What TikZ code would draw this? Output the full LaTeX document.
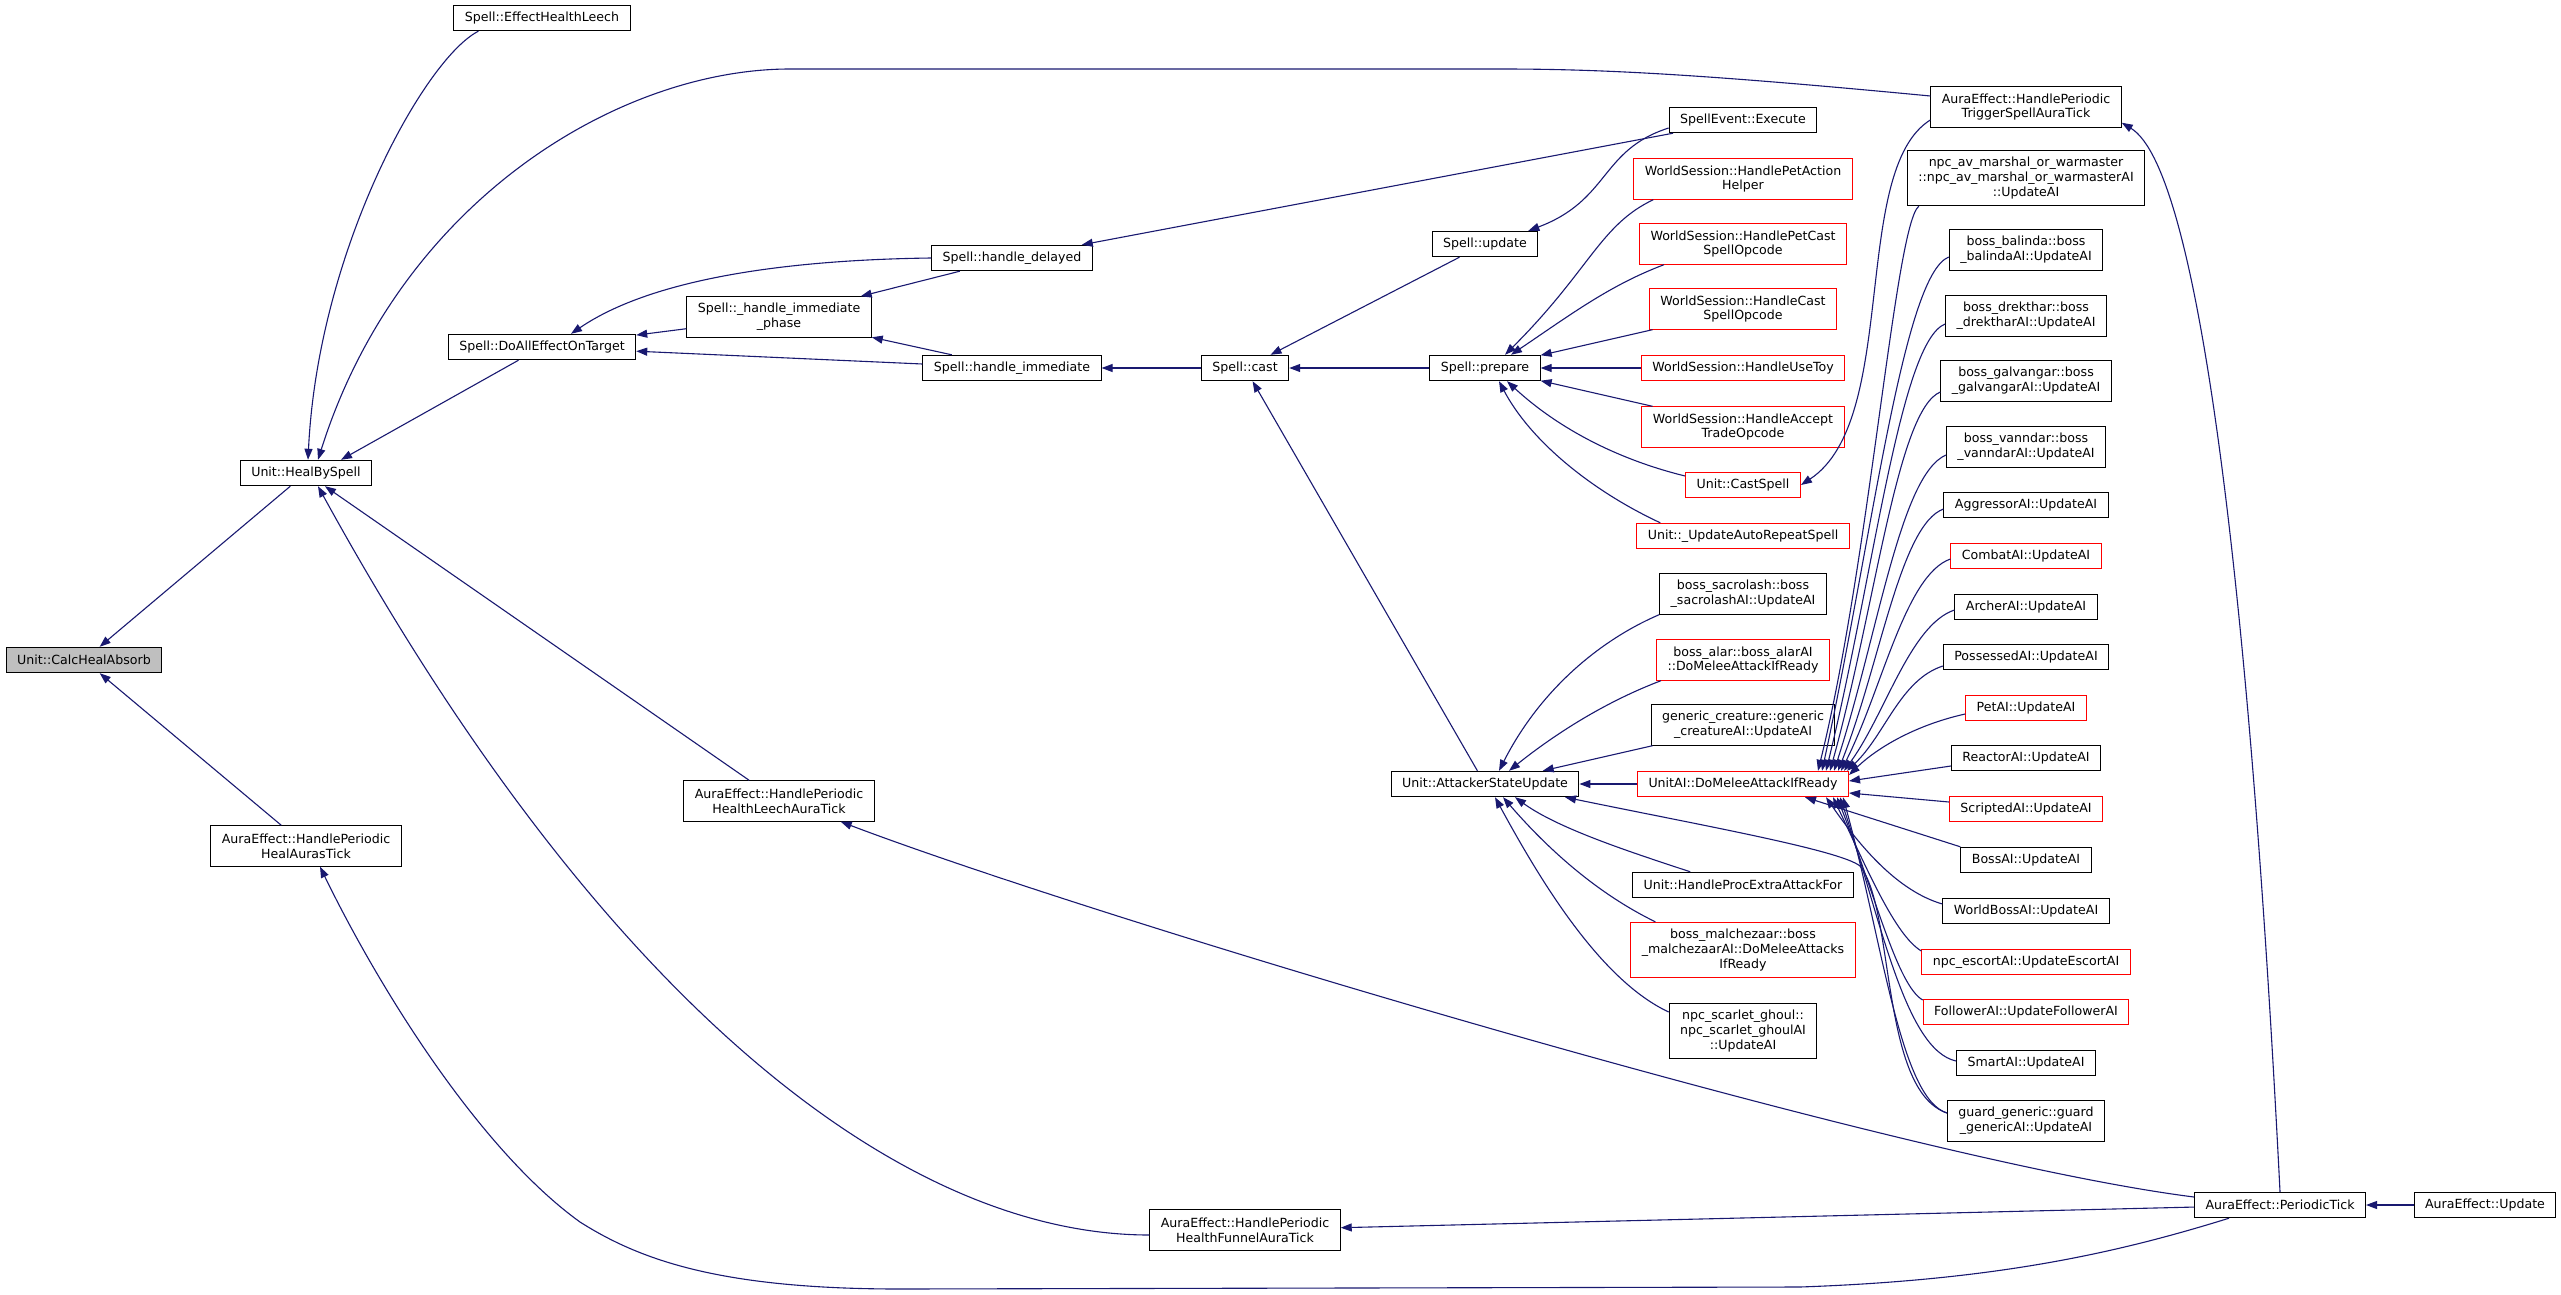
\documentclass[tikz,border=0pt]{standalone}
\usepackage{fontspec}
\setmainfont{DejaVu Sans}
\usepackage{tikz}
\usetikzlibrary{positioning, arrows.meta, calc}
\definecolor{callblue}{HTML}{191970}
\definecolor{rootgrey}{HTML}{BFBFBF}
\newcommand{\FnFont}{\fontsize{12.6}{14.7}\selectfont}
\tikzset{
    fn/.style={draw=black, fill=white, line width=1pt, font=\FnFont, align=center,
        inner xsep=11pt, inner ysep=5pt, minimum height=25.4pt},
    fntwo/.style={fn, minimum height=40.4pt},
    fnthree/.style={fn, minimum height=55.4pt},
    trunc/.style={draw=red},
    root/.style={fill=rootgrey},
    call/.style={-{Triangle[length=11pt,width=8pt]}, draw=callblue, line width=1.1pt},
}

\begin{document}
\begin{tikzpicture}[x=1pt, y=-1pt]
    \useasboundingbox (0,0) rectangle (2561,1295);

    % callee and the first callers
    \node[fn, root] (absorb) at (84,660) {Unit::CalcHealAbsorb};
    \node[fn] (heal) at (306,473) {Unit::HealBySpell};
    \node[fntwo] (healtick) at (306,846) {AuraEffect::HandlePeriodic\\HealAurasTick};
    \node[fn] (leech) at (542,18) {Spell::EffectHealthLeech};
    \node[fn] (doall) at (542,347) {Spell::DoAllEffectOnTarget};
    \node[fntwo] (phase) at (779,317) {Spell::\_handle\_immediate\\\_phase};
    \node[fntwo] (leechtick) at (779,801) {AuraEffect::HandlePeriodic\\HealthLeechAuraTick};
    \node[fn] (delayed) at (1012,258) {Spell::handle\_delayed};
    \node[fn] (immediate) at (1012,368) {Spell::handle\_immediate};
    \node[fn] (cast) at (1245,368) {Spell::cast};
    \node[fntwo] (funnel) at (1245,1230) {AuraEffect::HandlePeriodic\\HealthFunnelAuraTick};
    \node[fn] (update) at (1485,244) {Spell::update};
    \node[fn] (prepare) at (1485,368) {Spell::prepare};
    \node[fn] (attacker) at (1485,784) {Unit::AttackerStateUpdate};

    % callers of prepare and attacker
    \node[fn] (execute) at (1743,120) {SpellEvent::Execute};
    \node[fntwo, trunc] (petaction) at (1743,179) {WorldSession::HandlePetAction\\Helper};
    \node[fntwo, trunc] (petcast) at (1743,244) {WorldSession::HandlePetCast\\SpellOpcode};
    \node[fntwo, trunc] (castop) at (1743,309) {WorldSession::HandleCast\\SpellOpcode};
    \node[fn, trunc] (usetoy) at (1743,368) {WorldSession::HandleUseToy};
    \node[fntwo, trunc] (trade) at (1743,427) {WorldSession::HandleAccept\\TradeOpcode};
    \node[fn, trunc] (castspell) at (1743,485) {Unit::CastSpell};
    \node[fn, trunc] (autorepeat) at (1743,536) {Unit::\_UpdateAutoRepeatSpell};
    \node[fntwo] (sacrolash) at (1743,594) {boss\_sacrolash::boss\\\_sacrolashAI::UpdateAI};
    \node[fntwo, trunc] (alar) at (1743,660) {boss\_alar::boss\_alarAI\\::DoMeleeAttackIfReady};
    \node[fntwo] (generic) at (1743,725) {generic\_creature::generic\\\_creatureAI::UpdateAI};
    \node[fn, trunc] (melee) at (1743,784) {UnitAI::DoMeleeAttackIfReady};
    \node[fn] (extra) at (1743,885) {Unit::HandleProcExtraAttackFor};
    \node[fnthree, trunc] (malchezaar) at (1743,950) {boss\_malchezaar::boss\\\_malchezaarAI::DoMeleeAttacks\\IfReady};
    \node[fnthree] (ghoul) at (1743,1031) {npc\_scarlet\_ghoul::\\npc\_scarlet\_ghoulAI\\::UpdateAI};

    % callers of the melee attack
    \node[fntwo] (trigger) at (2026,107) {AuraEffect::HandlePeriodic\\TriggerSpellAuraTick};
    \node[fnthree] (marshal) at (2026,178) {npc\_av\_marshal\_or\_warmaster\\::npc\_av\_marshal\_or\_warmasterAI\\::UpdateAI};
    \node[fntwo] (balinda) at (2026,250) {boss\_balinda::boss\\\_balindaAI::UpdateAI};
    \node[fntwo] (drekthar) at (2026,316) {boss\_drekthar::boss\\\_drektharAI::UpdateAI};
    \node[fntwo] (galvangar) at (2026,381) {boss\_galvangar::boss\\\_galvangarAI::UpdateAI};
    \node[fntwo] (vanndar) at (2026,447) {boss\_vanndar::boss\\\_vanndarAI::UpdateAI};
    \node[fn] (aggressor) at (2026,505) {AggressorAI::UpdateAI};
    \node[fn, trunc] (combat) at (2026,556) {CombatAI::UpdateAI};
    \node[fn] (archer) at (2026,607) {ArcherAI::UpdateAI};
    \node[fn] (possessed) at (2026,657) {PossessedAI::UpdateAI};
    \node[fn, trunc] (petai) at (2026,708) {PetAI::UpdateAI};
    \node[fn] (reactor) at (2026,758) {ReactorAI::UpdateAI};
    \node[fn, trunc] (scripted) at (2026,809) {ScriptedAI::UpdateAI};
    \node[fn] (bossai) at (2026,860) {BossAI::UpdateAI};
    \node[fn] (worldboss) at (2026,911) {WorldBossAI::UpdateAI};
    \node[fn, trunc] (escort) at (2026,962) {npc\_escortAI::UpdateEscortAI};
    \node[fn, trunc] (follower) at (2026,1012) {FollowerAI::UpdateFollowerAI};
    \node[fn] (smart) at (2026,1063) {SmartAI::UpdateAI};
    \node[fntwo] (guard) at (2026,1121) {guard\_generic::guard\\\_genericAI::UpdateAI};

    \node[fn] (tick) at (2280,1205) {AuraEffect::PeriodicTick};
    \node[fn] (auraupdate) at (2485,1205) {AuraEffect::Update};

    % calls into the heal functions
    \draw (heal) edge[call] (absorb);
    \draw (healtick) edge[call] (absorb);
    \draw[call] ([xshift=25pt]leech.south west) .. controls (425,58) and (318,250) .. ([xshift=2pt]heal.north);
    \draw[call] ([yshift=11pt]trigger.west) .. controls (1700,74) and (1600,69) .. (1500,69) -- (790,69)
        .. controls (620,69) and (400,200) .. ([xshift=12pt]heal.north);
    \draw (doall) edge[call] ([xshift=35pt]heal.north);
    \draw (leechtick) edge[call] (heal);
    \draw[call] ([yshift=-5pt]funnel.west) .. controls (900,1235) and (600,1000) .. ([xshift=12pt]heal.south);

    % periodic tick
    \draw[call] ([xshift=-51pt]tick.south) .. controls (2120,1252) and (2000,1280) .. (1800,1287) -- (900,1289)
        .. controls (720,1289) and (640,1260) .. (580,1222)
        .. controls (480,1150) and (380,990) .. ([xshift=14pt]healtick.south);
    \draw[call] ([yshift=8pt]tick.west) .. controls (1900,1160) and (1100,920) .. ([xshift=-34pt]leechtick.south east);
    \draw (tick) edge[call] (funnel);
    \draw (auraupdate) edge[call] (tick);
    \draw[call] (tick.north) .. controls (2250,600) and (2200,170) .. ([yshift=5pt]trigger.south east);

    % spell handling
    \draw (phase) edge[call] (doall);
    \draw (immediate) edge[call] (doall);
    \draw[call] (delayed.west) .. controls (780,260) and (650,280) .. ([xshift=29pt]doall.north);
    \draw (delayed) edge[call] (phase);
    \draw (immediate) edge[call] (phase);
    \draw (execute) edge[call] (delayed);
    \draw[call] ([yshift=-8pt]execute.west) .. controls (1600,150) and (1610,200) .. ([xshift=-10pt]update.north east);
    \draw (update) edge[call] (cast);
    \draw (prepare) edge[call] (cast);
    \draw (cast) edge[call] (immediate);
    \draw (attacker) edge[call] (cast);

    \draw[call] ([xshift=20pt]petaction.south west) .. controls (1600,225) and (1590,270) .. ([xshift=20pt]prepare.north);
    \draw[call] ([xshift=25pt]petcast.south west) .. controls (1610,285) and (1570,315) .. ([xshift=26pt]prepare.north);
    \draw (castop) edge[call] (prepare);
    \draw (usetoy) edge[call] (prepare);
    \draw (trade) edge[call] (prepare);
    \draw[call] ([yshift=9pt]castspell.west) .. controls (1620,460) and (1560,430) .. ([xshift=22pt]prepare.south);
    \draw[call] ([xshift=24pt]autorepeat.north west) .. controls (1590,490) and (1530,440) .. ([xshift=14pt]prepare.south);
    \draw[call] ([yshift=-13pt]trigger.west) .. controls (1850,170) and (1900,420) .. (castspell.east);

    % melee
    \draw[call] (sacrolash.south west) .. controls (1600,640) and (1540,690) .. ([xshift=14pt]attacker.north);
    \draw[call] ([xshift=5pt]alar.south west) .. controls (1610,700) and (1560,730) .. ([xshift=24pt]attacker.north);
    \draw (generic) edge[call] (attacker);
    \draw (melee) edge[call] (attacker);
    \draw[call] ([xshift=58pt]extra.north west) .. controls (1640,855) and (1560,830) .. ([xshift=30pt]attacker.south);
    \draw[call] ([xshift=25pt]malchezaar.north west) .. controls (1590,890) and (1540,840) .. ([xshift=18pt]attacker.south);
    \draw[call] ([yshift=19pt]ghoul.west) .. controls (1600,980) and (1540,880) .. ([xshift=10pt]attacker.south);
    \draw[call] ([yshift=8pt]guard.west) .. controls (1880,1090) and (1895,910) .. (1860,866)
        .. controls (1840,850) and (1700,825) .. ([xshift=80pt]attacker.south);

    \draw[call] ([xshift=12pt]marshal.south west) .. controls (1895,225) and (1870,560) .. ([xshift=-31pt]melee.north east);
    \draw[call] ([yshift=-7pt]balinda.west) .. controls (1903,275) and (1872,540) .. ([xshift=-27pt]melee.north east);
    \draw[call] ([yshift=-8pt]drekthar.west) .. controls (1900,342) and (1874,575) .. ([xshift=-23pt]melee.north east);
    \draw[call] ([yshift=-11pt]galvangar.west) .. controls (1897,410) and (1876,605) .. ([xshift=-19pt]melee.north east);
    \draw[call] ([yshift=-8pt]vanndar.west) .. controls (1900,475) and (1878,635) .. ([xshift=-15pt]melee.north east);
    \draw[call] ([yshift=-4pt]aggressor.west) .. controls (1900,525) and (1880,665) .. ([xshift=-11pt]melee.north east);
    \draw[call] ([yshift=-3pt]combat.west) .. controls (1905,575) and (1882,690) .. ([xshift=-8pt]melee.north east);
    \draw[call] ([yshift=-3pt]archer.west) .. controls (1910,625) and (1885,715) .. ([xshift=-5pt]melee.north east);
    \draw[call] ([yshift=-9pt]possessed.west) .. controls (1900,680) and (1885,735) .. ([xshift=-2pt]melee.north east);
    \draw[call] ([yshift=-6pt]petai.west) .. controls (1920,724) and (1880,745) .. ([yshift=9pt]melee.east);
    \draw[call] ([yshift=-8pt]reactor.west) -- ([yshift=3pt]melee.east);
    \draw[call] ([yshift=7pt]scripted.west) -- ([yshift=-9pt]melee.east);
    \draw[call] (bossai.north west) -- ([xshift=62pt]melee.south);
    \draw[call] ([yshift=7pt]worldboss.west) .. controls (1898,891) and (1861,848) .. ([xshift=83pt]melee.south);
    \draw[call] ([yshift=11pt]escort.west) .. controls (1895,935) and (1868,871) .. ([xshift=90pt]melee.south);
    \draw[call] ([yshift=12pt]follower.west) .. controls (1897,985) and (1875,894) .. ([xshift=94pt]melee.south);
    \draw[call] ([yshift=2pt]smart.west) .. controls (1905,1050) and (1880,917) .. ([xshift=97pt]melee.south);
    \draw[call] ([yshift=8pt]guard.west) .. controls (1900,1098) and (1883,943) .. ([xshift=100pt]melee.south);

\end{tikzpicture}
\end{document}
